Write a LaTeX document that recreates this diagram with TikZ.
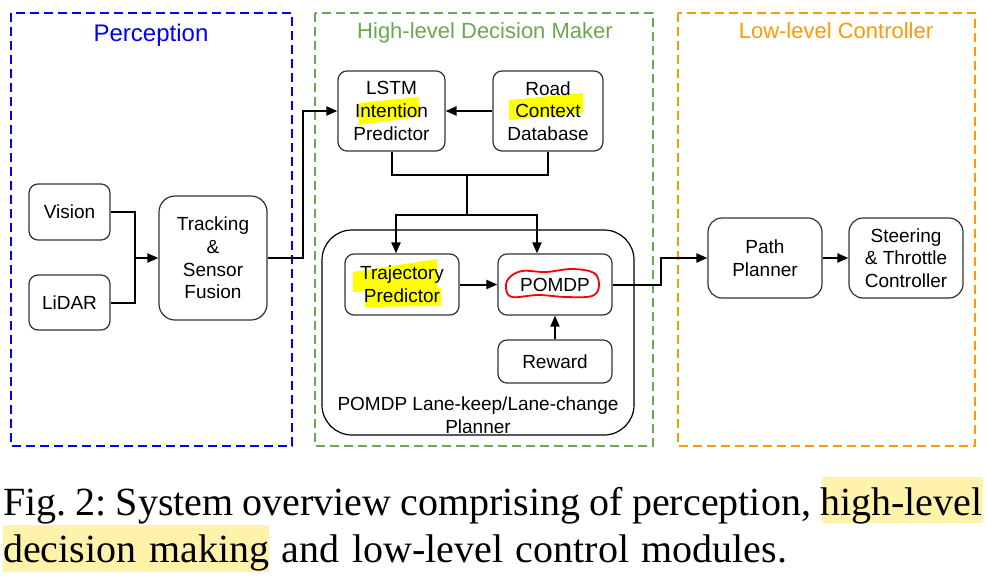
\documentclass[tikz,border=0pt]{standalone}
\usepackage{fontspec}
\setmainfont{Liberation Sans}
\newfontfamily\capfont{Liberation Serif}
\usetikzlibrary{arrows.meta}
\definecolor{percblue}{RGB}{0,0,255}
\definecolor{hlgreen}{RGB}{106,168,79}
\definecolor{llorange}{RGB}{255,153,0}
\definecolor{capyellow}{RGB}{255,242,170}
\definecolor{hlyellow}{RGB}{255,255,0}
\definecolor{boxgray}{RGB}{50,50,50}
\begin{document}
\frenchspacing
\begin{tikzpicture}[x=1pt,y=-1pt,
  group/.style={line width=2pt, dash pattern=on 9pt off 5pt},
  grouplabel/.style={anchor=base, inner sep=0pt, font=\fontsize{22}{26}\selectfont},
  blk/.style={draw=boxgray, line width=1.2pt, rounded corners=9pt, align=center,
    inner sep=0pt, font=\fontsize{19}{22.7}\selectfont},
  conn/.style={line width=2pt, -{Triangle[length=11pt,width=9pt]}},
  plain/.style={line width=2pt},
  captext/.style={anchor=base west, inner sep=0pt, font=\capfont\fontsize{40}{45}\selectfont},
]
\useasboundingbox (0,0) rectangle (987,587);

% group boxes
\draw[group, percblue] (11,13) rectangle (292,446);
\draw[group, hlgreen] (315,13) rectangle (653,446);
\draw[group, llorange] (678,13) rectangle (975,446);
\node[grouplabel, text=percblue, font=\fontsize{24}{28}\selectfont] (lp) at (151,41) {Perception};
\node[grouplabel, text=hlgreen] (lh) at (485,38) {High-level Decision Maker};
\node[grouplabel, text=llorange] (ll) at (836,38) {Low-level Controller};

% highlights in boxes
\fill[hlyellow] (359,103) -- (419,97) -- (419,117) -- (359,125) -- cycle;
\fill[hlyellow] (509,100) -- (583,93) -- (583,113) -- (509,120) -- cycle;
\fill[hlyellow] (353,272) -- (437,259) -- (437,288) -- (441,288) -- (441,306) -- (365,307) -- (365,291) -- (353,292) -- cycle;

% planner container
\draw[line width=1.2pt, rounded corners=30pt] (322,230) rectangle (634,435);
\node[align=center, inner sep=0pt, font=\fontsize{19}{22.7}\selectfont] (plab) at (478,415) {POMDP Lane-keep/Lane-change\\Planner};

% blocks
\node[blk, minimum width=81pt, minimum height=56pt] (vis) at (69.5,212) {Vision};
\node[blk, minimum width=81pt, minimum height=55pt] (lid) at (69.5,302.5) {LiDAR};
\node[blk, minimum width=108pt, minimum height=124pt, rounded corners=16pt] (trk) at (213,258) {Tracking\\\&\\Sensor\\Fusion};
\node[blk, minimum width=107pt, minimum height=80pt] (lstm) at (391.5,111) {LSTM\\Intention\\Predictor};
\node[blk, minimum width=110pt, minimum height=80pt] (road) at (548,111) {Road\\Context\\Database};
\node[blk, minimum width=114pt, minimum height=61pt] (traj) at (402,284.5) {Trajectory\\Predictor};
\node[blk, minimum width=114pt, minimum height=61pt] (pomdp) at (555,284.5) {POMDP};
\node[blk, minimum width=114pt, minimum height=43pt] (rew) at (555,361.5) {Reward};
\node[blk, minimum width=114pt, minimum height=80pt, rounded corners=14pt] (path) at (765,258) {Path\\Planner};
\node[blk, minimum width=114pt, minimum height=80pt, rounded corners=14pt] (steer) at (906,258) {Steering\\\& Throttle\\Controller};

% red loop around POMDP
\draw[red, line width=1.8pt] plot[smooth cycle, tension=0.6] coordinates {(509,278) (522,271) (546,272) (572,269) (594,273) (599,286) (592,296) (566,297) (538,295) (512,297) (506,288)};

% connectors
\coordinate (mrg) at (135,258);
\draw[plain] (vis.east) -| (mrg);
\draw[plain] (lid.east) -| (mrg);
\draw[conn] (mrg) -- (trk.west);
\draw[conn] (trk.east) -- ++(35,0) |- (lstm.west);
\draw[conn] (road.west) -- (lstm.east);
\coordinate (j1) at (467,175);
\coordinate (j2) at (467,215);
\draw[plain] (lstm.south) |- (j1) -| (road.south);
\draw[conn] (j1) -- (j2) -| ([xshift=-6pt]traj.north);
\draw[conn] (j2) -| ([xshift=-18pt]pomdp.north);
\draw[conn] (traj.east) -- (pomdp.west);
\draw[conn] (rew.north) -- (pomdp.south);
\draw[conn] (pomdp.east) -- ++(48,0) |- (path.west);
\draw[conn] (path.east) -- (steer.west);

% caption
\fill[capyellow] (822,477) rectangle (983,523);
\fill[capyellow] (3,525) rectangle (269,572);
\node[captext] (cap1) at (3,515)
  {\makebox[979pt][s]{Fig. 2: System overview comprising of perception, high-level}};
\node[captext] (cap2) at (3,562)
  {\makebox[784pt][s]{decision making and low-level control modules.}};
\end{tikzpicture}
\end{document}
